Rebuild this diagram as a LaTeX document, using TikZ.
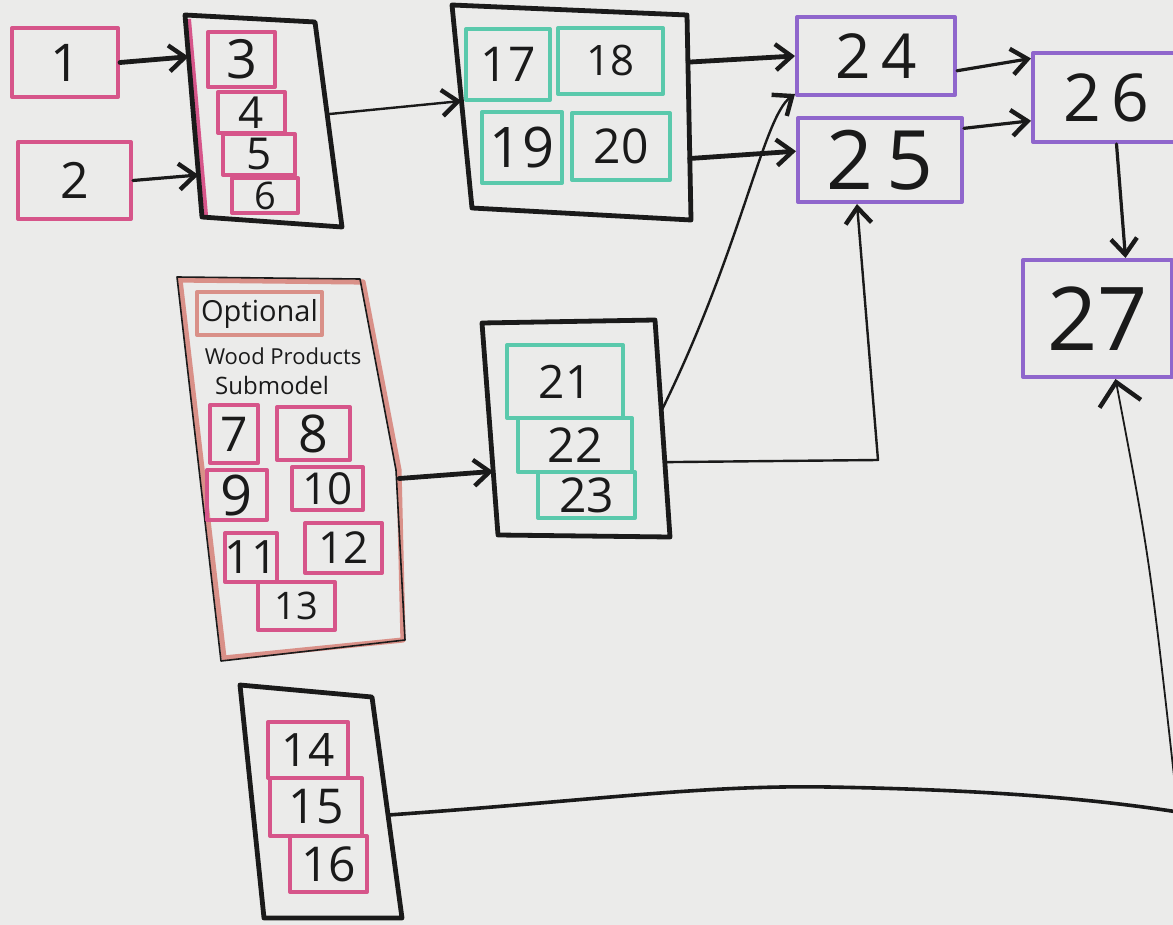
\documentclass[tikz,border=0pt]{standalone}
\usepackage{fontspec}
\setmainfont{Open Sans}
\usetikzlibrary{arrows.meta,fit,calc}
\definecolor{board}{HTML}{EBEBEA}
\definecolor{ink}{HTML}{1A1A1A}
\definecolor{mpink}{HTML}{D6558A}
\definecolor{mteal}{HTML}{5AC9AC}
\definecolor{mpurple}{HTML}{8F66CC}
\definecolor{msalmon}{HTML}{D99088}
% box with corners (x1,y1)-(x2,y2) and a centred label:
% style, font size, x1, y1, x2, y2, name, text
\newcommand\bx[8]{%
  \node[#1,fit={(#3,#4) (#5,#6)}] (#7) {};
  \node[label text, font=\fontsize{#2}{#2}\selectfont] (#7t) at (#7.center) {#8};}
\begin{document}
\begin{tikzpicture}[x=0.5pt,y=-0.5pt,
  box/.style={draw, line width=2pt, inner sep=0pt, line join=round},
  pinkbox/.style={box, draw=mpink},
  tealbox/.style={box, draw=mteal},
  purplebox/.style={box, draw=mpurple},
  label text/.style={text=ink, inner sep=0pt},
  holder/.style={draw=ink, line width=2.4pt, line join=round},
  headtip/.style={-{Straight Barb[length=8pt,width=13pt,line width=2.2pt]}},
  heavyarrow/.style={headtip, draw=ink, line width=2.4pt, line cap=round},
  lightarrow/.style={headtip, draw=ink, line width=1.2pt, line cap=round}]
\useasboundingbox (0,0) rectangle (1173,925);
\fill[board] (0,0) rectangle (1173,925);

% ---------- inputs 1 and 2 ----------
\bx{pinkbox}{26}{12}{28}{118}{97}{n1}{1}
\bx{pinkbox}{25}{18}{142}{131}{219}{n2}{2}

% ---------- group 3-6 ----------
\coordinate (Atl) at (185,15);  \coordinate (Atr) at (315,22);
\coordinate (Abr) at (342,227); \coordinate (Abl) at (202,217);
\draw[mpink, line width=2pt] ($(Atl)+(4,4)$) -- ($(Abl)+(4,-2)$);
\draw[holder] (Atl) -- (Atr) -- (Abr) -- (Abl) -- cycle;
\bx{pinkbox}{27}{208}{32}{275}{87}{n3}{3}
\bx{pinkbox}{22}{218}{92}{285}{133}{n4}{4}
\bx{pinkbox}{22}{223}{134}{295}{175}{n5}{5}
\bx{pinkbox}{19}{232}{178}{298}{213}{n6}{6}

% ---------- group 17-20 ----------
\coordinate (Btl) at (452,5);   \coordinate (Btr) at (687,15);
\coordinate (Bbr) at (691,220); \coordinate (Bbl) at (472,208);
\draw[holder] (Btl) -- (Btr) -- (Bbr) -- (Bbl) -- cycle;
\bx{tealbox}{24}{466}{29}{550}{100}{n17}{17}
\bx{tealbox}{21}{558}{28}{663}{94}{n18}{18}
\bx{tealbox}{28}{482}{112}{562}{183}{n19}{19}
\bx{tealbox}{24}{572}{113}{670}{180}{n20}{20}

% ---------- outputs 24-27 ----------
\bx{purplebox}{31}{797}{17}{955}{95}{n24}{2\,4}
\bx{purplebox}{41}{798}{118}{962}{202}{n25}{2\,5}
\bx{purplebox}{33}{1033}{53}{1180}{142}{n26}{2\,6}
\bx{purplebox}{44}{1023}{260}{1172}{377}{n27}{27}

% ---------- optional wood products submodel ----------
\coordinate (Ctl) at (180,280); \coordinate (Ctr) at (363,282);
\coordinate (Cm) at (399,470);  \coordinate (Cbr) at (403,640);
\coordinate (Cbl) at (224,658);
\draw[msalmon, line width=2.6pt, line join=round]
  (Ctl) -- (Ctr) -- (Cm) -- (Cbr) -- (Cbl) -- cycle;
\draw[ink, line width=0.8pt, line join=round]
  ($(Ctl)+(-3,-3)$) -- ($(Ctr)+(-3,-3)$) -- ($(Cm)+(-3,0)$) -- ($(Cbr)+(2,0)$) -- ($(Cbl)+(-3,3)$) -- cycle;
\bx{box,draw=msalmon}{14.5}{197}{292}{322}{335}{opt}{Optional}
\node[label text, font=\fontsize{11}{12}\selectfont] (wood) at (283,356) {Wood Products};
\node[label text, font=\fontsize{12}{13}\selectfont] (sub) at (272,385) {Submodel};
\bx{pinkbox}{24}{210}{405}{258}{463}{n7}{7}
\bx{pinkbox}{26}{277}{407}{350}{460}{n8}{8}
\bx{pinkbox}{28}{207}{470}{267}{520}{n9}{9}
\bx{pinkbox}{22}{292}{467}{363}{510}{n10}{10}
\bx{pinkbox}{23}{225}{533}{277}{582}{n11}{11}
\bx{pinkbox}{22}{305}{523}{382}{573}{n12}{12}
\bx{pinkbox}{19}{258}{582}{335}{630}{n13}{13}

% ---------- group 21-23 ----------
\coordinate (Dtl) at (482,323); \coordinate (Dtr) at (655,320);
\coordinate (Dbr) at (670,537); \coordinate (Dbl) at (498,535);
\draw[holder] (Dtl) -- (Dtr) -- (Dbr) -- (Dbl) -- cycle;
\bx{tealbox}{23}{507}{345}{623}{418}{n21}{21}
\bx{tealbox}{24}{518}{418}{632}{472}{n22}{22}
\bx{tealbox}{24}{538}{472}{635}{518}{n23}{23}

% ---------- group 14-16 ----------
\coordinate (Etl) at (240,685); \coordinate (Etr) at (372,697);
\coordinate (Ebr) at (402,918); \coordinate (Ebl) at (264,918);
\draw[holder] (Etl) -- (Etr) -- (Ebr) -- (Ebl) -- cycle;
\bx{pinkbox}{23}{268}{722}{348}{778}{n14}{14}
\bx{pinkbox}{24}{270}{778}{362}{836}{n15}{15}
\bx{pinkbox}{24}{290}{836}{367}{892}{n16}{16}

% ---------- connectors ----------
\draw[heavyarrow] (n1.east) -- ($(Atl)!(n1.east)!(Abl)$);
\draw[lightarrow, line width=1.6pt] (n2.east) -- ($(Atl)!(n2.east)!(Abl)$);
\coordinate (Aout) at ($(Atr)!0.45!(Abr)$);
\draw[lightarrow] (Aout) -- ($(Btl)!(Aout)!(Bbl)$);
\draw[heavyarrow] ($(Btr)!0.23!(Bbr)$) -- (n24.west);
\draw[heavyarrow] ($(Btr)!0.70!(Bbr)$) -- ($(n25.north west)!0.4!(n25.south west)$);
\draw[lightarrow, line width=1.6pt] ($(n24.north east)!0.68!(n24.south east)$) -- ($(n26.north west)!0.08!(n26.south west)$);
\draw[lightarrow, line width=1.6pt] ($(n25.north east)!0.14!(n25.south east)$) -- ($(n26.north west)!0.75!(n26.south west)$);
\draw[lightarrow, line width=1.6pt] ($(n26.south)+(10,0)$) -- ($(n27.north)+(28,0)$);
\coordinate (Cout) at ($(Cm)!0.05!(Cbr)$);
\draw[heavyarrow] (Cout) -- ($(Dtl)!(Cout)!(Dbl)$);
\coordinate (Dout1) at ($(Dtr)!0.42!(Dbr)$);
\draw[lightarrow] (Dout1) .. controls +(80,-162) and +(-32,23) .. ($(n24.south west)+(0,-3)$);
\coordinate (Dout2) at ($(Dtr)!0.655!(Dbr)$);
\coordinate (bend25) at (878,460);
\draw[lightarrow, line join=round] (Dout2) -- (bend25) -- ($(n25.south)+(-23,0)$);
\coordinate (Eout) at ($(Etr)!0.534!(Ebr)$);
\coordinate (bend27) at (1178,812);
\draw[ink, line width=1.8pt, line cap=round]
  (Eout) .. controls (600,800) and (700,785) .. (828,787)
         .. controls (1000,790) and (1100,800) .. (bend27);
\draw[ink, line width=0.9pt, -{Straight Barb[length=11pt,width=21pt,line width=2.2pt]}]
  (bend27) .. controls (1150,560) .. ($(n27.south)+(18,0)$);
\end{tikzpicture}
\end{document}
